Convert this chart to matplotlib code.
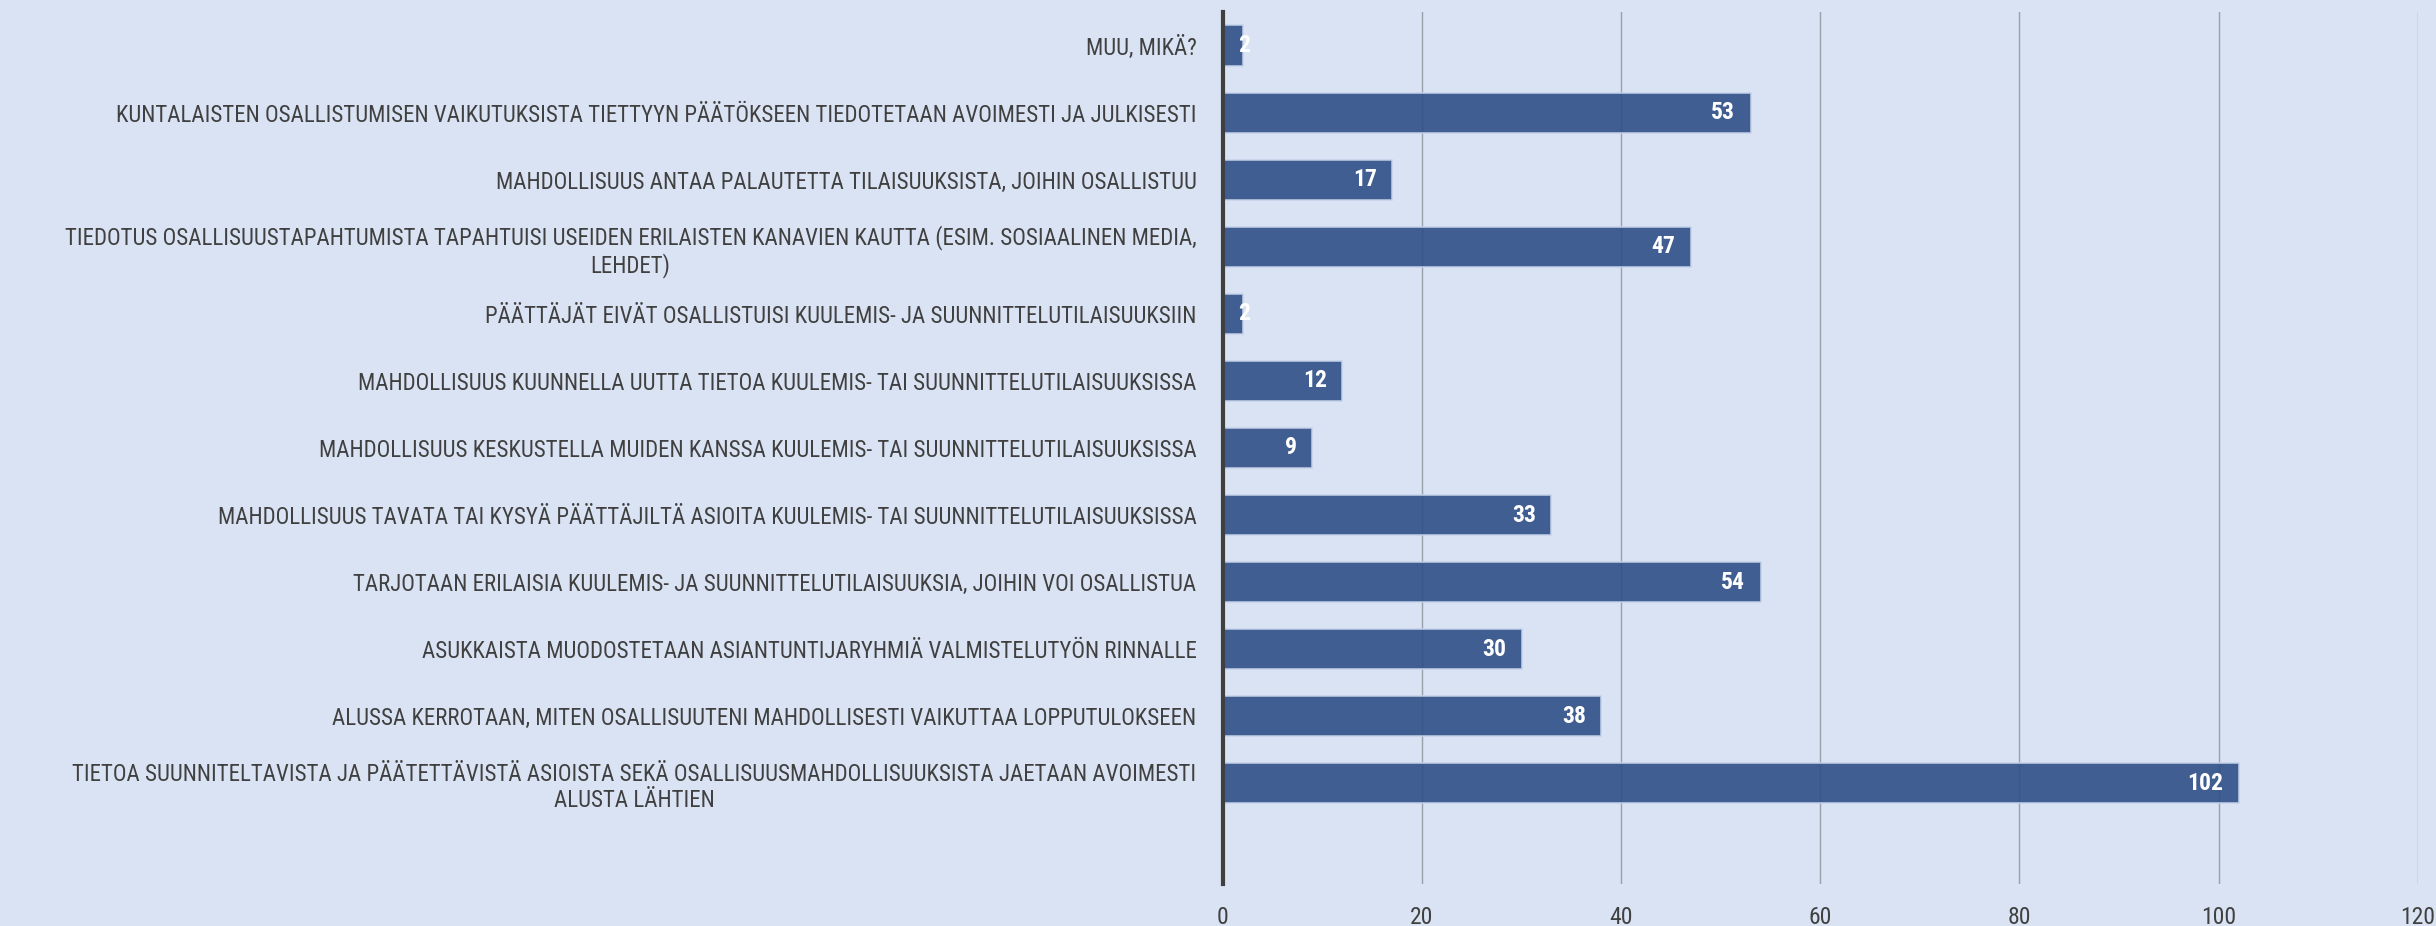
import matplotlib
matplotlib.use("Agg")
import matplotlib.pyplot as plt
from matplotlib import font_manager

categories = [
    "MUU, MIKÄ?",
    "KUNTALAISTEN OSALLISTUMISEN VAIKUTUKSISTA TIETTYYN PÄÄTÖKSEEN TIEDOTETAAN AVOIMESTI JA JULKISESTI",
    "MAHDOLLISUUS ANTAA PALAUTETTA TILAISUUKSISTA, JOIHIN OSALLISTUU",
    "TIEDOTUS OSALLISUUSTAPAHTUMISTA TAPAHTUISI USEIDEN ERILAISTEN KANAVIEN KAUTTA (ESIM. SOSIAALINEN MEDIA,\nLEHDET)",
    "PÄÄTTÄJÄT EIVÄT OSALLISTUISI KUULEMIS- JA SUUNNITTELUTILAISUUKSIIN",
    "MAHDOLLISUUS KUUNNELLA UUTTA TIETOA KUULEMIS- TAI SUUNNITTELUTILAISUUKSISSA",
    "MAHDOLLISUUS KESKUSTELLA MUIDEN KANSSA KUULEMIS- TAI SUUNNITTELUTILAISUUKSISSA",
    "MAHDOLLISUUS TAVATA TAI KYSYÄ PÄÄTTÄJILTÄ ASIOITA KUULEMIS- TAI SUUNNITTELUTILAISUUKSISSA",
    "TARJOTAAN ERILAISIA KUULEMIS- JA SUUNNITTELUTILAISUUKSIA, JOIHIN VOI OSALLISTUA",
    "ASUKKAISTA MUODOSTETAAN ASIANTUNTIJARYHMIÄ VALMISTELUTYÖN RINNALLE",
    "ALUSSA KERROTAAN, MITEN OSALLISUUTENI MAHDOLLISESTI VAIKUTTAA LOPPUTULOKSEEN",
    "TIETOA SUUNNITELTAVISTA JA PÄÄTETTÄVISTÄ ASIOISTA SEKÄ OSALLISUUSMAHDOLLISUUKSISTA JAETAAN AVOIMESTI\nALUSTA LÄHTIEN",
]
counts = [2, 53, 17, 47, 2, 12, 9, 33, 54, 30, 38, 102]
xticks = [0, 20, 40, 60, 80, 100, 120]

bg = "#DAE3F3"
bar_col = "#2F5086"
txt = "#404040"

# pick a narrow face if one is there, else a plain sans
installed = {f.name for f in font_manager.fontManager.ttflist}
main_font, cat_size = "Liberation Sans", 12.5
for name, sz in [("Roboto Condensed", 16.5), ("Liberation Sans Narrow", 16),
                 ("Open Sans Condensed", 16), ("Roboto", 13)]:
    if name in installed:
        main_font, cat_size = name, sz
        break
plt.rcParams['font.family'] = [main_font, "DejaVu Sans"]

fig = plt.figure(figsize=(24.36, 9.26), dpi=100, facecolor=bg)
ax = fig.add_axes([0.502, 0.0454, 0.4905, 0.9416])
ax.set_facecolor(bg)

ypos = list(range(len(categories)))
ax.barh(ypos, counts, height=0.6, color=bar_col, alpha=0.9,
        edgecolor="#C5D2EA", linewidth=1.2, zorder=2)

for i, v in enumerate(counts):
    if v < 4:
        ax.annotate(str(v), xy=(0, i), xytext=(11, 0), textcoords="offset points",
                    ha="left", va="center", color="white", fontsize=17,
                    fontweight="bold", zorder=3)
    else:
        ax.annotate(str(v), xy=(v, i), xytext=(-11, 0), textcoords="offset points",
                    ha="right", va="center", color="white", fontsize=17,
                    fontweight="bold", zorder=3)

ax.set_xlim(0, 120)
ax.set_ylim(12.5, -0.5)
ax.set_xticks(xticks)
ax.set_yticks(ypos)
ax.set_yticklabels(categories, fontsize=cat_size, color=txt)
for t in ax.get_yticklabels():
    t.set_multialignment("center")

ax.grid(axis="x", color="#9AA0AA", linewidth=1.0, zorder=0)
ax.set_axisbelow(True)
for s in ["top", "right", "bottom"]:
    ax.spines[s].set_visible(False)
ax.spines["left"].set_color(txt)
ax.spines["left"].set_linewidth(3)
ax.spines["left"].set_zorder(4)

ax.tick_params(axis="y", length=0, pad=19)
ax.tick_params(axis="x", length=0, pad=16, labelsize=17, labelcolor=txt)

fig.savefig("out.png", dpi=100, facecolor=bg)
